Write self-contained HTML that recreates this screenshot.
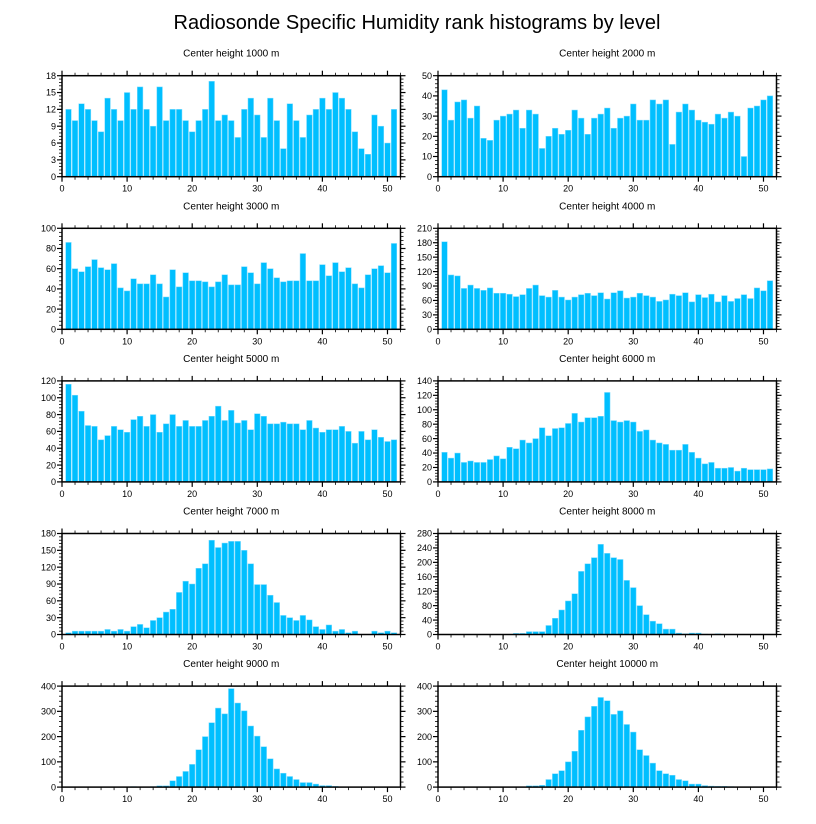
<!DOCTYPE html>
<html><head><meta charset="utf-8">
<style>
html,body{margin:0;padding:0;background:#fff;}
svg{display:block;font-family:"Liberation Sans",Arial,sans-serif;}
</style></head>
<body>
<svg id="chart" width="816" height="824" viewBox="0 0 816 824" xmlns="http://www.w3.org/2000/svg">
<text x="417" y="29" font-size="20" text-anchor="middle" fill="#000">Radiosonde Specific Humidity rank histograms by level</text>
</svg>
<script>
const levels = ["1000","2000","3000","4000","5000","6000","7000","8000","9000","10000"];
const yMax = [18,50,100,210,120,140,180,280,400,400];
const yStep = [3,10,20,30,20,20,30,40,100,100];
const xTicks = [0,10,20,30,40,50];
const v1000 = [12,10,13,12,10,8,14,12,10,15,12,16,12,9,16,10,12,12,10,8,10,12,17,10,11,10,7,12,14,11,7,14,10,5,13,10,7,11,12,14,12,15,14,12,8,5,4,11,9,6,12];
const v2000 = [43,28,37,38,29,35,19,18,28,30,31,33,24,33,31,14,20,24,21,23,33,29,21,29,31,34,24,29,30,36,28,28,38,36,38,16,32,36,33,28,27,26,31,29,32,30,10,34,35,38,40];
const v3000 = [86,60,57,62,69,61,59,65,41,38,50,45,45,54,45,32,59,42,56,48,48,47,42,47,54,44,44,62,56,45,66,60,51,47,48,48,75,48,48,64,53,66,57,61,45,41,54,60,63,56,85];
const v4000 = [182,113,111,85,92,85,81,86,75,75,73,68,72,85,92,70,67,81,67,61,67,72,75,70,76,63,76,80,65,67,75,70,67,58,61,73,70,76,57,72,66,73,57,70,58,64,72,64,86,80,101];
const v5000 = [116,103,84,67,66,50,55,66,62,59,74,78,66,80,59,69,80,66,73,66,66,73,78,90,73,85,70,73,62,81,78,69,69,71,69,69,62,73,64,59,62,62,66,60,46,60,50,62,53,48,50];
const v6000 = [41,33,40,27,29,27,27,31,36,32,48,46,58,54,60,75,64,74,75,81,95,83,89,89,91,124,85,83,85,83,70,72,58,54,52,44,44,52,41,33,25,27,19,19,20,15,19,17,17,17,18];
const v7000 = [3,6,6,6,6,6,9,6,9,6,14,18,12,25,30,40,45,75,95,90,118,126,168,155,163,166,166,150,126,89,89,70,57,34,30,25,34,26,14,9,17,6,9,3,6,0,0,6,3,6,3];
const v8000 = [0,0,0,0,0,0,0,0,0,0,0,3,3,8,8,8,25,45,68,93,113,175,196,213,250,225,213,208,150,130,80,55,37,30,15,15,4,2,4,4,1,0,2,0,0,0,0,0,0,0,0];
const v9000 = [0,0,0,0,0,0,0,0,0,0,2,0,0,2,5,5,25,42,62,90,148,200,255,313,290,390,333,302,242,202,160,112,72,55,42,30,18,18,12,6,6,3,1,0,1,0,1,0,0,0,0];
const v10000 = [0,0,0,0,0,0,0,0,0,0,0,0,0,5,5,7,30,53,65,100,142,225,278,320,355,342,288,302,248,218,148,125,95,65,53,47,30,25,12,12,6,4,3,3,2,0,0,0,0,0,0];
const series = [v1000,v2000,v3000,v4000,v5000,v6000,v7000,v8000,v9000,v10000];

const NS = "http://www.w3.org/2000/svg";
const svg = document.getElementById("chart");
const X_MIN = 0, X_MAX = 52;
const colLeft = [62, 438], plotW = 338.5, plotH = 101;
const rowTop = [75.7, 228.3, 380.9, 533.5, 686.1];

function mk(tag, attrs, parent) {
  const e = document.createElementNS(NS, tag);
  for (const k in attrs) e.setAttribute(k, attrs[k]);
  parent.appendChild(e);
  return e;
}

series.forEach((vals, p) => {
  const L = colLeft[p % 2], T = rowTop[Math.floor(p / 2)], B = T + plotH, R = L + plotW;
  const xs = v => L + (v - X_MIN) / (X_MAX - X_MIN) * plotW;
  const ys = v => B - v / yMax[p] * plotH;
  const g = mk("g", {}, svg);
  
  

  const st = mk("text", {x: (L + R) / 2, y: T - 19, "font-size": 10, "text-anchor": "middle", fill: "#000"}, g);
  st.textContent = "Center height " + levels[p] + " m";
  
  

  vals.forEach((v, i) => {
    const c = i + 1, bw = 0.86;
    const r = mk("rect", {x: xs(c - bw / 2), y: ys(v), width: xs(c + bw / 2) - xs(c - bw / 2), height: B - ys(v), fill: "#00BFFF", stroke: "#7fdcff", "stroke-width": 0.5}, g);
    
    
  });

  const fr = mk("rect", {x: L, y: T, width: plotW, height: plotH, fill: "none", stroke: "#000", "stroke-width": 1.5}, g);
  
  

  // x ticks
  for (let t = 0; t <= 52; t += 2) {
    const maj = t % 10 === 0, len = maj ? 5 : 3, x = xs(t);
    mk("line", {x1: x, x2: x, y1: B, y2: B + len, stroke: "#000", "stroke-width": maj ? 1.2 : 0.8}, g);
    mk("line", {x1: x, x2: x, y1: T, y2: T - len, stroke: "#000", "stroke-width": maj ? 1.2 : 0.8}, g);
  }
  xTicks.forEach(t => {
    const tx = mk("text", {x: xs(t), y: B + 15, "font-size": 9, "text-anchor": "middle", fill: "#000"}, g);
    tx.textContent = t;
    
    
  });
  // y ticks
  const minor = yStep[p] / 5;
  for (let k = 0; k <= Math.round(yMax[p] / minor); k++) {
    const v = k * minor, maj = k % 5 === 0, len = maj ? 5 : 3, y = ys(v);
    mk("line", {x1: L, x2: L - len, y1: y, y2: y, stroke: "#000", "stroke-width": maj ? 1.2 : 0.8}, g);
    mk("line", {x1: R, x2: R + len, y1: y, y2: y, stroke: "#000", "stroke-width": maj ? 1.2 : 0.8}, g);
  }
  for (let v = 0; v <= yMax[p]; v += yStep[p]) {
    const ty = mk("text", {x: L - 6, y: ys(v) + 3.2, "font-size": 9, "text-anchor": "end", fill: "#000"}, g);
    ty.textContent = v;
    
    
  }
});
</script>
</body></html>
